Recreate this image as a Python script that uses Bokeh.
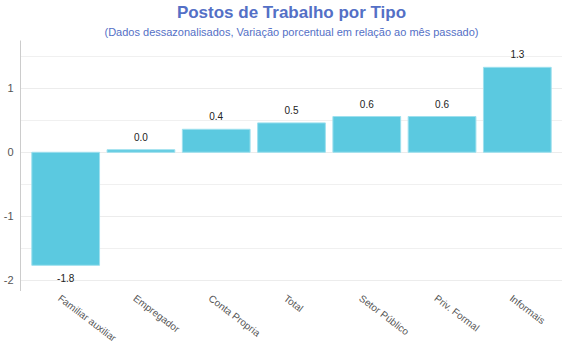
from bokeh.plotting import figure
from bokeh.layouts import column
from bokeh.models import Title, ColumnDataSource, FactorRange, FixedTicker, Range1d
from bokeh.core.properties import value
from bokeh.embed import file_html
from bokeh.resources import INLINE

categories = ["Familiar auxiliar", "Empregador", "Conta Propria", "Total",
              "Setor Público", "Priv. Formal", "Informais"]
values = [-1.77, 0.04, 0.36, 0.46, 0.56, 0.56, 1.33]
y_ticks = [-2, -1, 0, 1]
y_min, y_max = -2.18, 1.75

FONT = "Liberation Sans"
BAR = "#5bc9e0"
TITLE_C = "#5470c6"
W = 562

labels = [f"{v:.1f}" for v in values]
base = ["bottom" if v >= 0 else "top" for v in values]
offs = [-9 if v >= 0 else 9 for v in values]
src = ColumnDataSource(dict(cat=categories, val=values, lab=labels, base=base, off=offs,
                            ytop=[1] * len(categories)))

xr = FactorRange(*categories, range_padding=0.0286)
p = figure(x_range=xr, y_range=(y_min, y_max),
           width=W, height=291, output_backend="svg", toolbar_location=None,
           title=None, min_border_left=13, min_border_right=0, min_border_top=1,
           min_border_bottom=0)

p.add_layout(Title(text="(Dados dessazonalisados, Variação porcentual em relação ao mês passado)",
                   align="center", text_font=FONT, text_font_size="11px",
                   text_font_style="normal", text_color=TITLE_C, standoff=5), "above")
p.add_layout(Title(text="Postos de Trabalho por Tipo", align="center", text_font=FONT,
                   text_font_size="17px", text_font_style="bold", text_color=TITLE_C,
                   standoff=0), "above")

p.vbar(x="cat", top="val", bottom=0, width=0.9, source=src, fill_color=BAR,
       line_color="#9ee0ee", line_width=1)
p.text(x="cat", y="val", text="lab", source=src, text_align="center",
       text_baseline="base", y_offset="off", text_font=value(FONT),
       text_font_size="10px", text_color="#222222")

p.outline_line_color = None
p.xgrid.grid_line_color = None
p.ygrid.grid_line_color = "#ececec"
p.ygrid.minor_grid_line_color = "#f0f0f0"
p.yaxis.ticker = FixedTicker(ticks=y_ticks, minor_ticks=[-2, -1.5, -1, -0.5, 0, 0.5, 1, 1.5])
p.yaxis.major_label_overrides = {t: str(t) for t in y_ticks}

for ax in (p.xaxis, p.yaxis):
    ax.axis_line_color = "#cccccc"
    ax.major_tick_line_color = None
    ax.minor_tick_line_color = None
    ax.major_label_text_font = FONT
    ax.major_label_text_font_size = "11px"
    ax.major_label_text_color = "#555555"
    ax.major_tick_out = 0
    ax.major_tick_in = 0
p.xaxis.major_label_text_font_size = "1px"
p.xaxis.major_label_text_color = None
p.xaxis.major_label_standoff = 0
p.yaxis.major_label_standoff = 3

# lower strip holding the rotated category labels
p2 = figure(x_range=xr, y_range=Range1d(0, 1), width=W, height=53,
            output_backend="svg", toolbar_location=None, title=None,
            x_axis_type=None, y_axis_type=None, min_border_left=13,
            min_border_right=0, min_border_top=0, min_border_bottom=0)
p2.outline_line_color = None
p2.xgrid.visible = False
p2.ygrid.visible = False
p2.text(x="cat", y="ytop", text="cat", source=src, angle=-0.65,
        text_align="left", text_baseline="top", x_offset=-3, y_offset=1,
        text_font=value(FONT), text_font_size="10px", text_color="#555555")

layout = column(p, p2, spacing=0)
open("out.html", "w").write(file_html(layout, INLINE))
